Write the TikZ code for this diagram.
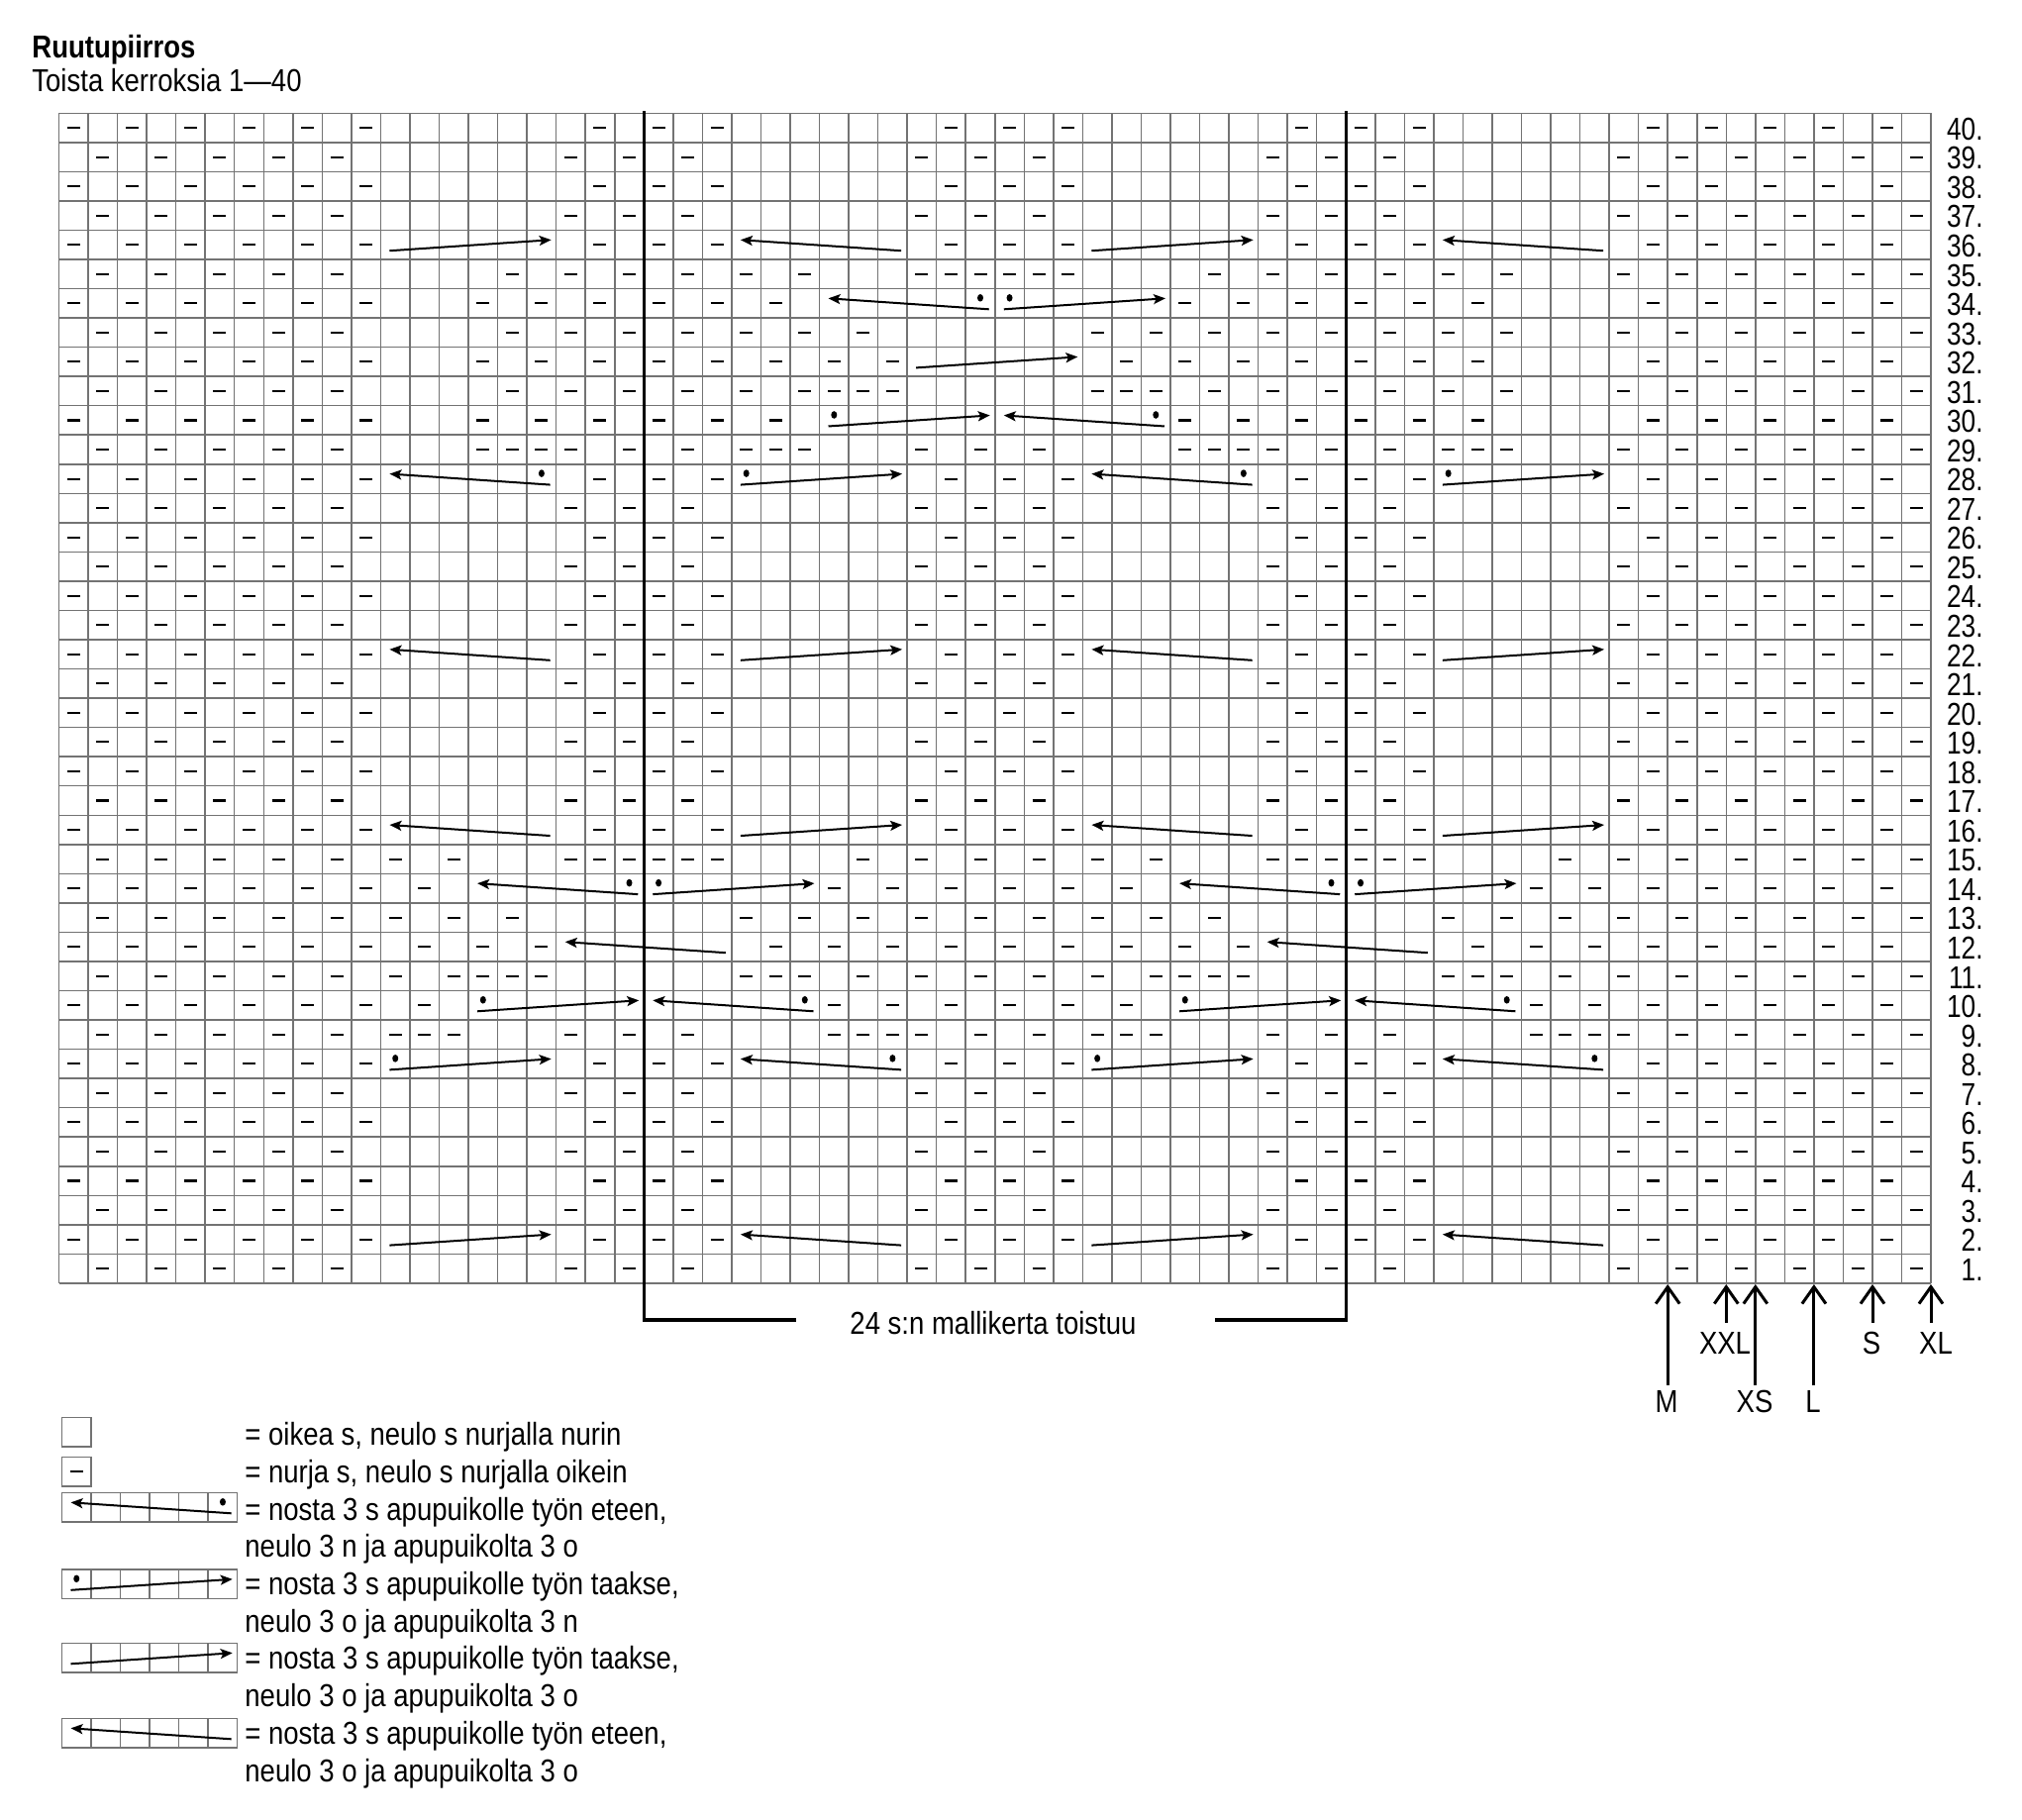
\documentclass[tikz,border=0pt]{standalone}
\usepackage{fontspec}
\setmainfont{Liberation Sans}
\newfontfamily\nfont[FakeStretch=0.86]{Liberation Sans}
\newfontfamily\rfont[FakeStretch=0.82]{Liberation Sans}
\usetikzlibrary{arrows.meta}
% purl dash in chart cell (row, col)
\newcommand{\pd}[2]{\draw[purl] ({59.5+29.54*(#2-0.5)-6.5},{114.3+29.54*(40.5-#1)}) -- ++(13,0);}
% cable symbols: left x, centre y, dot flag
\newcommand{\cabR}[3]{\draw[cab] ({#1+9},{#2+6}) -- ({#1+172.2},{#2-5});
  \ifnum#3=1 \fill ({#1+14.77},{#2-5.5}) ellipse [x radius=1.5pt,y radius=1.9pt];\fi}
\newcommand{\cabL}[3]{\draw[cab] ({#1+171.2},{#2+6}) -- ({#1+9},{#2-5});
  \ifnum#3=1 \fill ({#1+162.47},{#2-5.5}) ellipse [x radius=1.5pt,y radius=1.9pt];\fi}
\newcommand{\chR}[3]{\cabR{59.5+29.54*(#2-1)}{114.3+29.54*(40.5-#1)}{#3}}
\newcommand{\chL}[3]{\cabL{59.5+29.54*(#2-1)}{114.3+29.54*(40.5-#1)}{#3}}
\newcommand{\legbox}[2]{\draw[gridl] (62.5,#1) rectangle ({62.5+29.54*#2},{#1+29.54});
  \foreach \k in {1,...,#2} {\draw[gridl] ({62.5+29.54*\k},#1) -- ({62.5+29.54*\k},{#1+29.54});}}
\begin{document}
\begin{tikzpicture}[x=0.5pt,y=-0.5pt,
  gridl/.style={draw=black!55, line width=0.75pt},
  purl/.style={line width=1.05pt, black},
  cab/.style={line width=1pt, -{Stealth[length=6pt,width=5pt,inset=1.3pt]}},
  rep/.style={line width=1.8pt, black},
  szarrow/.style={line width=1.5pt, -{Straight Barb[length=8.5pt,width=12pt,line width=1.5pt]}},
  lbl/.style={font=\nfont\fontsize{16}{19}\selectfont, inner sep=0pt},
  rlbl/.style={font=\rfont\fontsize{16}{17}\selectfont, inner sep=0pt},
]
\fill[white] (0,0) rectangle (2042,1838);
\useasboundingbox (0,0) rectangle (2042,1838);

% title
\node[lbl, font=\nfont\bfseries\fontsize{16}{19}\selectfont, anchor=base west] (title) at (32,58) {Ruutupiirros};
\node[lbl, anchor=base west] (sub) at (32,92) {Toista kerroksia 1—40};

% grid
\foreach \i in {0,...,64} {\draw[gridl] ({59.5+29.54*\i},114.3) -- ({59.5+29.54*\i},1295.9);}
\foreach \j in {0,...,40} {\draw[gridl] (59.5,{114.3+29.54*\j}) -- (1950.1,{114.3+29.54*\j});}

% repeat lines and bracket
\draw[rep] (650.3,112) -- (650.3,1333) -- (804,1333);
\draw[rep] (1359.3,112) -- (1359.3,1333) -- (1227,1333);
\node[lbl, anchor=base] (reptext) at (1003,1347) {24 s:n mallikerta toistuu};

% row numbers
\foreach \r in {1,...,40} {\node[rlbl, anchor=base east] (row\r) at (2003,{114.3+29.54*(41-\r)-2.5}) {\r.};}

% base rows
\foreach \r in {1,3,5,7,17,19,21,23,25,27,37,39} {\foreach \c in {2,4,6,8,10,18,20,22,30,32,34,42,44,46,54,56,58,60,62,64} {\pd{\r}{\c}}}
\foreach \r in {2,4,6,8,16,18,20,22,24,26,28,36,38,40} {\foreach \c in {1,3,5,7,9,11,19,21,23,31,33,35,43,45,47,55,57,59,61,63} {\pd{\r}{\c}}}
% special rows
\foreach \c in {2,4,6,8,10,12,13,14,18,20,22,27,28,29,30,32,34,36,37,38,42,44,46,51,52,53,54,56,58,60,62,64} {\pd{9}{\c}}
\foreach \c in {1,3,5,7,9,11,13,27,29,31,33,35,37,51,53,55,57,59,61,63} {\pd{10}{\c}}
\foreach \c in {2,4,6,8,10,12,14,15,16,17,24,25,26,28,30,32,34,36,38,39,40,41,48,49,50,52,54,56,58,60,62,64} {\pd{11}{\c}}
\foreach \c in {1,3,5,7,9,11,13,15,17,25,27,29,31,33,35,37,39,41,49,51,53,55,57,59,61,63} {\pd{12}{\c}}
\foreach \c in {2,4,6,8,10,12,14,16,24,26,28,30,32,34,36,38,40,48,50,52,54,56,58,60,62,64} {\pd{13}{\c}}
\foreach \c in {1,3,5,7,9,11,13,27,29,31,33,35,37,51,53,55,57,59,61,63} {\pd{14}{\c}}
\foreach \c in {2,4,6,8,10,12,14,18,19,20,21,22,23,28,30,32,34,36,38,42,43,44,45,46,47,52,54,56,58,60,62,64} {\pd{15}{\c}}
\foreach \c in {2,4,6,8,10,15,16,17,18,20,22,24,25,26,30,32,34,39,40,41,42,44,46,48,49,50,54,56,58,60,62,64} {\pd{29}{\c}}
\foreach \c in {1,3,5,7,9,11,15,17,19,21,23,25,39,41,43,45,47,49,55,57,59,61,63} {\pd{30}{\c}}
\foreach \c in {2,4,6,8,10,16,18,20,22,24,26,27,28,29,36,37,38,40,42,44,46,48,50,54,56,58,60,62,64} {\pd{31}{\c}}
\foreach \c in {1,3,5,7,9,11,15,17,19,21,23,25,27,29,37,39,41,43,45,47,49,55,57,59,61,63} {\pd{32}{\c}}
\foreach \c in {2,4,6,8,10,16,18,20,22,24,26,28,36,38,40,42,44,46,48,50,54,56,58,60,62,64} {\pd{33}{\c}}
\foreach \c in {1,3,5,7,9,11,15,17,19,21,23,25,39,41,43,45,47,49,55,57,59,61,63} {\pd{34}{\c}}
\foreach \c in {2,4,6,8,10,16,18,20,22,24,26,30,31,32,33,34,35,40,42,44,46,48,50,54,56,58,60,62,64} {\pd{35}{\c}}

% cables
\chR{2}{12}{0} \chL{2}{24}{0} \chR{2}{36}{0} \chL{2}{48}{0}
\chR{8}{12}{1} \chL{8}{24}{1} \chR{8}{36}{1} \chL{8}{48}{1}
\chR{10}{15}{1} \chL{10}{21}{1} \chR{10}{39}{1} \chL{10}{45}{1}
\chL{12}{18}{0} \chL{12}{42}{0}
\chL{14}{15}{1} \chR{14}{21}{1} \chL{14}{39}{1} \chR{14}{45}{1}
\chL{16}{12}{0} \chR{16}{24}{0} \chL{16}{36}{0} \chR{16}{48}{0}
\chL{22}{12}{0} \chR{22}{24}{0} \chL{22}{36}{0} \chR{22}{48}{0}
\chL{28}{12}{1} \chR{28}{24}{1} \chL{28}{36}{1} \chR{28}{48}{1}
\chR{30}{27}{1} \chL{30}{33}{1}
\chR{32}{30}{0}
\chL{34}{27}{1} \chR{34}{33}{1}
\chR{36}{12}{0} \chL{36}{24}{0} \chR{36}{36}{0} \chL{36}{48}{0}

% size arrows
\coordinate (mT) at (1684.2,1297); \coordinate (mB) at (1684.2,1399);
\coordinate (xxlT) at (1743.3,1297); \coordinate (xxlB) at (1743.3,1336);
\coordinate (xsT) at (1772.8,1297); \coordinate (xsB) at (1772.8,1399);
\coordinate (lT) at (1831.9,1297); \coordinate (lB) at (1831.9,1399);
\coordinate (sT) at (1891,1297); \coordinate (sB) at (1891,1336);
\coordinate (xlT) at (1950,1297); \coordinate (xlB) at (1950,1336);
\draw[szarrow] (mB) -- (mT);
\draw[szarrow] (xxlB) -- (xxlT);
\draw[szarrow] (xsB) -- (xsT);
\draw[szarrow] (lB) -- (lT);
\draw[szarrow] (sB) -- (sT);
\draw[szarrow] (xlB) -- (xlT);
\node[lbl, anchor=base] (xxl) at (1742,1367) {XXL};
\node[lbl, anchor=base] (s) at (1890,1367) {S};
\node[lbl, anchor=base] (xl) at (1955,1367) {XL};
\node[lbl, anchor=base] (m) at (1683,1426) {M};
\node[lbl, anchor=base] (xs) at (1772,1426) {XS};
\node[lbl, anchor=base] (l) at (1831,1426) {L};

% legend
\legbox{1431.5}{1}
\legbox{1471.5}{1}
\draw[purl] (70.7,1486.3) -- ++(13,0);
\legbox{1507.5}{6}
\cabL{62.5}{1522.3}{1}
\legbox{1585}{6}
\cabR{62.5}{1599.8}{1}
\legbox{1659.5}{6}
\cabR{62.5}{1674.3}{0}
\legbox{1735.5}{6}
\cabL{62.5}{1750.3}{0}
\node[lbl, anchor=base west] (t1) at (247,1459) {= oikea s, neulo s nurjalla nurin};
\node[lbl, anchor=base west] (t2) at (247,1497) {= nurja s, neulo s nurjalla oikein};
\node[lbl, anchor=base west] (t3) at (247,1535) {= nosta 3 s apupuikolle työn eteen,};
\node[lbl, anchor=base west] (t4) at (247,1572) {neulo 3 n ja apupuikolta 3 o};
\node[lbl, anchor=base west] (t5) at (247,1610) {= nosta 3 s apupuikolle työn taakse,};
\node[lbl, anchor=base west] (t6) at (247,1648) {neulo 3 o ja apupuikolta 3 n};
\node[lbl, anchor=base west] (t7) at (247,1685) {= nosta 3 s apupuikolle työn taakse,};
\node[lbl, anchor=base west] (t8) at (247,1723) {neulo 3 o ja apupuikolta 3 o};
\node[lbl, anchor=base west] (t9) at (247,1761) {= nosta 3 s apupuikolle työn eteen,};
\node[lbl, anchor=base west] (t10) at (247,1799) {neulo 3 o ja apupuikolta 3 o};
\end{tikzpicture}
\end{document}
